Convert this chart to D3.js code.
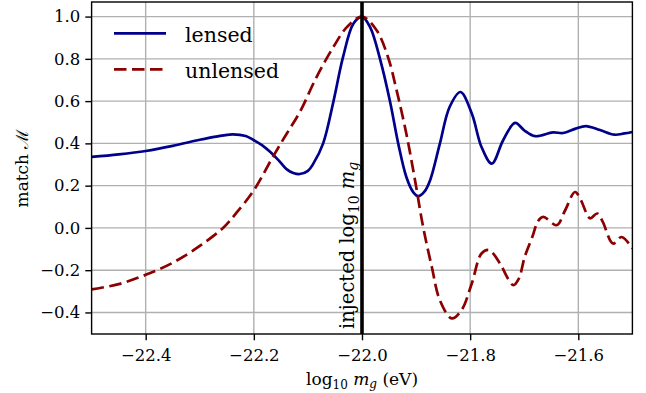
<!DOCTYPE html>
<html lang="en">
<head>
<meta charset="UTF-8">
<title>Match vs graviton mass</title>
<script src="https://d3js.org/d3.v7.min.js"></script>
<style>
    html, body { margin: 0; padding: 0; background: #fff; }
    svg text { font-family: "DejaVu Serif", serif; fill: #000; }
</style>
</head>
<body>
<svg id="main" width="646" height="393"></svg>
<script>
// lensed match
const lensedX = [-22.5, -22.45, -22.4, -22.35, -22.3, -22.27, -22.24, -22.215, -22.2, -22.185,
    -22.17, -22.155, -22.139, -22.127, -22.115, -22.1, -22.09, -22.072, -22.053, -22.035,
    -22.016, -22.0, -21.985, -21.966, -21.948, -21.933, -21.918, -21.905, -21.896, -21.885,
    -21.874, -21.856, -21.838, -21.818, -21.797, -21.779, -21.76, -21.739, -21.717, -21.7,
    -21.68, -21.647, -21.628, -21.605, -21.586, -21.56, -21.533, -21.515, -21.5];
const lensedY = [0.336, 0.348, 0.364, 0.388, 0.417, 0.432, 0.443, 0.435, 0.415, 0.392,
    0.36, 0.322, 0.277, 0.26, 0.255, 0.27, 0.304, 0.399, 0.596, 0.809,
    0.966, 1.0, 0.95, 0.793, 0.596, 0.399, 0.241, 0.168, 0.15, 0.17,
    0.226, 0.399, 0.572, 0.643, 0.541, 0.383, 0.304, 0.415, 0.497, 0.462,
    0.434, 0.452, 0.449, 0.47, 0.482, 0.463, 0.441, 0.447, 0.454];

// unlensed match
const unlensedX = [-22.5, -22.45, -22.4, -22.35, -22.3, -22.257, -22.232, -22.2,
    -22.164, -22.139, -22.115, -22.084, -22.053, -22.028, -22.0, -21.973, -21.952, -21.936,
    -21.918, -21.902, -21.887, -21.871, -21.856, -21.834, -21.816, -21.797, -21.779, -21.765,
    -21.745, -21.73, -21.72, -21.71, -21.699, -21.684, -21.675, -21.665, -21.64, -21.625,
    -21.606, -21.595, -21.585, -21.578, -21.565, -21.555, -21.536, -21.52, -21.5];
const unlensedY = [-0.291, -0.266, -0.222, -0.165, -0.085, 0.0, 0.072, 0.178,
    0.34, 0.447, 0.548, 0.714, 0.856, 0.95, 1.0, 0.935, 0.809, 0.651,
    0.446, 0.226, 0.005, -0.184, -0.342, -0.428, -0.389, -0.263, -0.121, -0.105,
    -0.168, -0.24, -0.271, -0.24, -0.136, -0.035, 0.03, 0.052, 0.013, 0.08,
    0.17, 0.13, 0.07, 0.045, 0.068, 0.03, -0.074, -0.043, -0.097];

const injected = -22.0;
const xTicks = [-22.4, -22.2, -22.0, -21.8, -21.6];
const yTicks = [-0.4, -0.2, 0.0, 0.2, 0.4, 0.6, 0.8, 1.0];

const margin = {left: 91.6, right: 632.4, top: 2, bottom: 334};
const svg = d3.select('svg#main');

const x = d3.scaleLinear().domain([-22.5, -21.5]).range([margin.left, margin.right]);
const y = d3.scaleLinear().domain([-0.502, 1.069]).range([margin.bottom, margin.top]);

const fmt = v => (v < 0 ? '\u2212' : '') + Math.abs(v).toFixed(1);

// grid
svg.append('g').selectAll('line').data(xTicks).enter().append('line')
    .attr('x1', d => x(d)).attr('x2', d => x(d))
    .attr('y1', margin.top).attr('y2', margin.bottom)
    .attr('stroke', '#b0b0b0').attr('stroke-width', 1.4);
svg.append('g').selectAll('line').data(yTicks).enter().append('line')
    .attr('x1', margin.left).attr('x2', margin.right)
    .attr('y1', d => y(d)).attr('y2', d => y(d))
    .attr('stroke', '#b0b0b0').attr('stroke-width', 1.4);

// axes with outward ticks
const xAxis = svg.append('g').attr('transform', `translate(0,${margin.bottom})`)
    .call(d3.axisBottom(x).tickValues(xTicks).tickFormat(fmt).tickSize(6.3).tickPadding(9));
const yAxis = svg.append('g').attr('transform', `translate(${margin.left},0)`)
    .call(d3.axisLeft(y).tickValues(yTicks).tickFormat(fmt).tickSize(6.3).tickPadding(5));
[xAxis, yAxis].forEach(a => {
    a.attr('font-family', null);
    a.select('.domain').remove();
    a.selectAll('line').attr('stroke', '#000').attr('stroke-width', 1.4);
    a.selectAll('text').style('font-size', '16.5px').attr('fill', '#000');
});

// curves
const line = d3.line().x(d => x(d[0])).y(d => y(d[1])).curve(d3.curveCatmullRom.alpha(0.5));
const lensed = lensedX.map((v, i) => [v, lensedY[i]]);
const unlensed = unlensedX.map((v, i) => [v, unlensedY[i]]);

svg.append('clipPath').attr('id', 'clip').append('rect')
    .attr('x', margin.left).attr('y', margin.top)
    .attr('width', margin.right - margin.left).attr('height', margin.bottom - margin.top);

svg.append('path').datum(lensed).attr('d', line)
    .attr('fill', 'none').attr('stroke', '#00008b').attr('stroke-width', 2.7)
    .attr('clip-path', 'url(#clip)');
svg.append('path').datum(unlensed).attr('d', line)
    .attr('fill', 'none').attr('stroke', '#8b0000').attr('stroke-width', 2.7)
    .attr('stroke-dasharray', '12.5,5.5')
    .attr('clip-path', 'url(#clip)');

// injected value marker
svg.append('line')
    .attr('x1', x(injected)).attr('x2', x(injected))
    .attr('y1', margin.top).attr('y2', margin.bottom)
    .attr('stroke', '#000').attr('stroke-width', 3.6);

const inj = svg.append('text')
    .attr('transform', `translate(${x(injected) - 8.5},${margin.bottom - 5}) rotate(-90)`)
    .style('font-size', '19.5px');
inj.append('tspan').text('injected log');
inj.append('tspan').attr('dy', 5).style('font-size', '14px').text('10');
inj.append('tspan').attr('dy', -5).text(' ');
inj.append('tspan').style('font-style', 'italic').text('m');
inj.append('tspan').attr('dy', 4).style('font-size', '14px').style('font-style', 'italic').text('g');

// spines
svg.append('rect')
    .attr('x', margin.left).attr('y', margin.top)
    .attr('width', margin.right - margin.left).attr('height', margin.bottom - margin.top)
    .attr('fill', 'none').attr('stroke', '#000').attr('stroke-width', 1.4);

// axis labels
const xl = svg.append('text').attr('x', (margin.left + margin.right) / 2).attr('y', 385)
    .attr('text-anchor', 'middle').style('font-size', '17px');
xl.append('tspan').text('log');
xl.append('tspan').attr('dy', 4).style('font-size', '12px').text('10');
xl.append('tspan').attr('dy', -4).text(' ');
xl.append('tspan').style('font-style', 'italic').text('m');
xl.append('tspan').attr('dy', 3).style('font-size', '12px').style('font-style', 'italic').text('g');
xl.append('tspan').attr('dy', -3).text(' (eV)');

svg.append('text')
    .attr('transform', `translate(28,${(margin.top + margin.bottom) / 2}) rotate(-90)`)
    .attr('text-anchor', 'middle').style('font-size', '17px')
    .text('match \u2133');

// legend
const legend = [
    {name: 'lensed', color: '#00008b', dash: null, y: 33.3},
    {name: 'unlensed', color: '#8b0000', dash: '12.5,5.5', y: 69.3}
];
const lg = svg.append('g');
legend.forEach(d => {
    lg.append('line').attr('x1', 114).attr('x2', 166).attr('y1', d.y).attr('y2', d.y)
        .attr('stroke', d.color).attr('stroke-width', 2.7)
        .attr('stroke-dasharray', d.dash);
    lg.append('text').attr('x', 185).attr('y', d.y + 9)
        .style('font-size', '20.5px').text(d.name);
});
</script>
</body>
</html>
